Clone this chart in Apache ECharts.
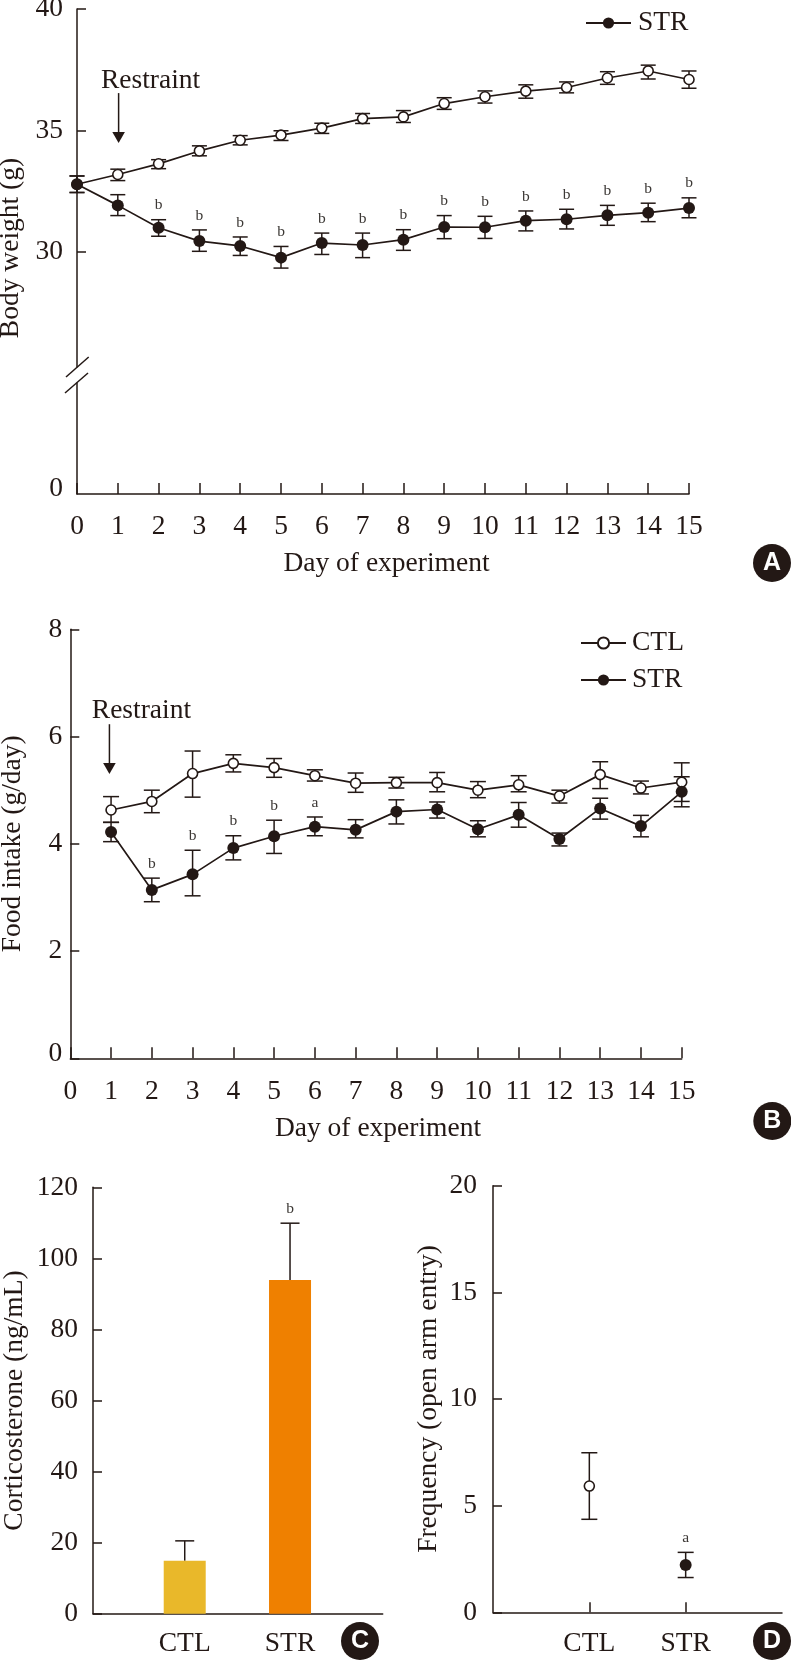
<!DOCTYPE html>
<html>
<head>
<meta charset="utf-8">
<style>html,body{margin:0;padding:0;background:#fff}#c{width:791px;height:1661px}</style>
<script src="https://cdn.jsdelivr.net/npm/echarts@6/dist/echarts.min.js"></script>
</head>
<body>
<div id="c"></div>
<script>
// Panel A: body weight
const daysA = [0,1,2,3,4,5,6,7,8,9,10,11,12,13,14,15];
const ctlA   = [32.79,33.19,33.63,34.16,34.60,34.81,35.10,35.49,35.56,36.11,36.39,36.62,36.77,37.16,37.45,37.10];
const ctlAHi = [33.13,33.41,33.80,34.37,34.79,34.99,35.30,35.70,35.82,36.35,36.63,36.88,37.00,37.42,37.69,37.45];
const ctlALo = [32.45,32.94,33.43,33.96,34.41,34.59,34.88,35.29,35.33,35.87,36.13,36.33,36.55,36.90,37.12,36.74];
const strA   = [32.79,31.92,31.00,30.45,30.25,29.77,30.37,30.29,30.51,31.03,31.02,31.29,31.35,31.51,31.62,31.81];
const strAHi = [33.13,32.36,31.33,30.91,30.62,30.23,30.78,30.78,30.92,31.50,31.47,31.69,31.76,31.92,32.01,32.23];
const strALo = [32.45,31.50,30.65,30.03,29.86,29.34,29.90,29.77,30.07,30.55,30.56,30.87,30.95,31.10,31.25,31.41];
const lettersA = ['','','b','b','b','b','b','b','b','b','b','b','b','b','b','b'];
const ticksAUpper = [30,35,40];
const ticksALower = [0];
const arrowA = [[1.02,36.54,34.49]];

// Panel B: food intake
const daysB = [1,2,3,4,5,6,7,8,9,10,11,12,13,14,15];
const ctlB   = [4.63,4.79,5.31,5.50,5.42,5.27,5.13,5.14,5.14,5.00,5.10,4.89,5.29,5.04,5.15];
const ctlBHi = [4.88,5.00,5.73,5.66,5.59,5.38,5.32,5.24,5.33,5.16,5.27,5.00,5.53,5.17,5.51];
const ctlBLo = [4.40,4.58,4.87,5.34,5.24,5.17,4.96,5.04,4.97,4.86,4.97,4.76,5.03,4.93,4.79];
const strB   = [4.22,3.14,3.43,3.92,4.14,4.32,4.26,4.60,4.64,4.27,4.54,4.09,4.66,4.33,4.97];
const strBHi = [4.40,3.36,3.88,4.15,4.44,4.50,4.45,4.82,4.78,4.43,4.77,4.20,4.85,4.53,5.25];
const strBLo = [4.04,2.92,3.03,3.70,3.82,4.15,4.11,4.37,4.48,4.13,4.31,3.96,4.46,4.13,4.69];
const lettersB = ['','b','b','b','b','a','','','','','','','','',''];
const arrowB = [[0.96,6.23,5.30]];

// Panel C: corticosterone
const catsC = ['CTL','STR'];
const valsC = [14.9,93.9];
const hiC = [20.5,109.9];
const barColorsC = ['#E9B82A','#EF8000'];
const lettersC = ['','b'];

// Panel D: open arm frequency
const catsD = ['CTL','STR'];
const valsD = [5.92,2.22];
const hiD = [7.48,2.81];
const loD = [4.36,1.63];
const lettersD = ['','a'];

const ink = '#231815';
const serif = '"Liberation Serif","Times New Roman",serif';
const FS = 27.5;
const txt = {fontFamily: serif, fontSize: FS, color: ink};
const lineSty = {color: ink, width: 1.5};

function zip() { const a = [...arguments]; return a[0].map((_, i) => a.map(c => c[i])); }

function errRender(capHalf, upOnly) {
  return function (params, api) {
    const x = api.value(0);
    const lo = api.coord([x, api.value(1)]);
    const hi = api.coord([x, api.value(2)]);
    const s = {stroke: ink, lineWidth: 1.5, fill: null};
    const mk = (x1, y1, x2, y2) => ({type: 'line', shape: {x1, y1, x2, y2}, style: s});
    const ch = [mk(lo[0], lo[1], hi[0], hi[1]), mk(hi[0] - capHalf, hi[1], hi[0] + capHalf, hi[1])];
    if (!upOnly) ch.push(mk(lo[0] - capHalf, lo[1], lo[0] + capHalf, lo[1]));
    return {type: 'group', children: ch};
  };
}
function errSeries(xi, yi, data, capHalf, upOnly) {
  return {type: 'custom', xAxisIndex: xi, yAxisIndex: yi, data, z: 1, clip: false, silent: true,
    encode: {x: 0, y: [1, 2]}, renderItem: errRender(capHalf, upOnly), tooltip: {show: false}};
}
function letterSeries(xi, yi, xs, tops, letters) {
  return {type: 'custom', xAxisIndex: xi, yAxisIndex: yi, data: zip(xs, tops), z: 3, clip: false, silent: true,
    encode: {x: 0, y: 1},
    renderItem(params, api) {
      const p = api.coord([api.value(0), api.value(1)]);
      return {type: 'text', x: p[0], y: p[1] - 14.5, style: {text: letters[params.dataIndex], fontFamily: serif,
        fontSize: 15.5, fill: '#3c3835', align: 'center', verticalAlign: 'middle'}};
    }};
}
function arrowSeries(xi, yi, data, dx, dy) {
  return {type: 'custom', xAxisIndex: xi, yAxisIndex: yi, data, z: 3, clip: false, silent: true,
    encode: {x: 0, y: [1, 2]},
    renderItem(params, api) {
      const x = api.value(0);
      const a = api.coord([x, api.value(1)]);
      const b = api.coord([x, api.value(2)]);
      return {type: 'group', children: [
        {type: 'line', shape: {x1: a[0], y1: a[1], x2: b[0], y2: b[1] - 8}, style: {stroke: ink, lineWidth: 1.5}},
        {type: 'polygon', shape: {points: [[b[0] - 6.3, b[1] - 11], [b[0] + 6.3, b[1] - 11], [b[0], b[1]]]}, style: {fill: ink}},
        {type: 'text', x: a[0] + dx, y: a[1] - dy, style: {text: 'Restraint', fontFamily: serif, fontSize: FS, fill: ink,
          align: 'center', verticalAlign: 'middle'}}
      ]};
    }};
}
function lineSeries(name, xi, yi, xs, ys, open) {
  return {type: 'line', name, xAxisIndex: xi, yAxisIndex: yi, data: zip(xs, ys), z: open ? 2 : 4,
    symbol: 'circle', symbolSize: open ? 10 : 12, showAllSymbol: true, clip: false,
    lineStyle: {color: ink, width: 1.7},
    itemStyle: open ? {color: '#fff', borderColor: ink, borderWidth: 1.6} : {color: ink, borderColor: ink, borderWidth: 0}};
}
function pointSeries(xi, yi, x, y, open) {
  return {type: 'scatter', xAxisIndex: xi, yAxisIndex: yi, data: [[x, y]], z: 4, symbol: 'circle',
    symbolSize: open ? 10 : 12, silent: true,
    itemStyle: open ? {color: '#fff', borderColor: ink, borderWidth: 1.6, opacity: 1} : {color: ink, opacity: 1}};
}
function badge(cx, cy, ch) {
  return [
    {type: 'circle', shape: {cx, cy, r: 19}, style: {fill: ink}, silent: true},
    {type: 'text', x: cx, y: cy, style: {text: ch, fontFamily: '"Liberation Sans",Arial,sans-serif', fontWeight: 'bold',
      fontSize: 25, fill: '#fff', align: 'center', verticalAlign: 'middle'}, silent: true}
  ];
}
function breakMark(x1, y1, x2, y2) {
  return {type: 'line', shape: {x1, y1, x2, y2}, style: {stroke: ink, lineWidth: 1.5}, silent: true};
}

const dayLabels = {show: true, interval: 0, margin: 19, ...txt};
const dayTicks = {show: true, inside: true, length: 11, lineStyle: lineSty, interval: 0};
const noBounds = {containLabel: false, outerBoundsMode: 'none'};
const raisedZero = {z: {fontFamily: serif, fontSize: FS, color: ink, padding: [0, 0, 10, 0]}};
const zeroFmt = v => v === 0 ? '{z|0}' : String(v);

const option = {
  animation: false,
  backgroundColor: '#fff',
  grid: [
    {left: 77, top: 9, width: 612, height: 358, ...noBounds},     // A upper
    {left: 77, top: 383, width: 612, height: 111, ...noBounds},   // A lower
    {left: 70.3, top: 629.3, width: 611.4, height: 429, ...noBounds}, // B
    {left: 93, top: 1187.3, width: 289.7, height: 426.4, ...noBounds}, // C
    {left: 493, top: 1185.7, width: 289, height: 426.6, ...noBounds}   // D
  ],
  xAxis: [
    {type: 'value', gridIndex: 0, min: 0, max: 15, show: false},
    {type: 'value', gridIndex: 1, min: 0, max: 15, interval: 1, splitLine: {show: false},
      axisLine: {lineStyle: lineSty, onZero: false}, axisTick: dayTicks, axisLabel: dayLabels,
      name: 'Day of experiment', nameLocation: 'middle', nameGap: 56,
      nameTextStyle: {...txt, padding: [0, 0, 0, 7]}},
    {type: 'value', gridIndex: 2, min: 0, max: 15, interval: 1, splitLine: {show: false},
      axisLine: {lineStyle: lineSty, onZero: false}, axisTick: dayTicks, axisLabel: dayLabels,
      name: 'Day of experiment', nameLocation: 'middle', nameGap: 56,
      nameTextStyle: {...txt, padding: [0, 0, 0, 4]}},
    {type: 'value', gridIndex: 3, min: 0.129, max: 2.88, splitLine: {show: false},
      axisLine: {lineStyle: lineSty, onZero: false}, axisTick: {show: false},
      axisLabel: {show: true, margin: 16, ...txt, customValues: [1, 2], formatter: v => catsC[Math.round(v) - 1] || ''}},
    {type: 'value', gridIndex: 4, min: 0, max: 3, splitLine: {show: false},
      axisLine: {lineStyle: lineSty, onZero: false},
      axisTick: {show: true, inside: true, length: 10, lineStyle: lineSty, customValues: [1, 2]},
      axisLabel: {show: true, margin: 17, ...txt, customValues: [1, 2], formatter: v => catsD[Math.round(v) - 1] || ''}}
  ],
  yAxis: [
    {type: 'value', gridIndex: 0, min: 25.27, max: 40, splitLine: {show: false},
      axisLine: {show: true, lineStyle: lineSty, onZero: false},
      axisTick: {show: true, inside: true, length: 9, lineStyle: lineSty, customValues: ticksAUpper},
      axisLabel: {show: true, margin: 14, ...txt, customValues: ticksAUpper},
      name: 'Body weight (g)', nameLocation: 'middle', nameGap: 48,
      nameTextStyle: {...txt, padding: [0, 120, 0, 0]}},
    {type: 'value', gridIndex: 1, min: 0, max: 5, splitLine: {show: false},
      axisLine: {show: true, lineStyle: lineSty, onZero: false},
      axisTick: {show: false},
      axisLabel: {show: true, margin: 14, ...txt, customValues: ticksALower, formatter: zeroFmt, rich: raisedZero}},
    {type: 'value', gridIndex: 2, min: 0, max: 8, interval: 2, splitLine: {show: false},
      axisLine: {show: true, lineStyle: lineSty, onZero: false},
      axisTick: {show: true, inside: true, length: 9, lineStyle: lineSty},
      axisLabel: {show: true, margin: 8, ...txt, formatter: zeroFmt, rich: raisedZero},
      name: 'Food intake (g/day)', nameLocation: 'middle', nameGap: 44, nameTextStyle: {...txt}},
    {type: 'value', gridIndex: 3, min: 0, max: 120, interval: 20, splitLine: {show: false},
      axisLine: {show: true, lineStyle: lineSty, onZero: false},
      axisTick: {show: true, inside: true, length: 9, lineStyle: lineSty},
      axisLabel: {show: true, margin: 15, ...txt},
      name: 'Corticosterone (ng/mL)', nameLocation: 'middle', nameGap: 64, nameTextStyle: {...txt}},
    {type: 'value', gridIndex: 4, min: 0, max: 20, interval: 5, splitLine: {show: false},
      axisLine: {show: true, lineStyle: lineSty, onZero: false},
      axisTick: {show: true, inside: true, length: 9, lineStyle: lineSty},
      axisLabel: {show: true, margin: 16, ...txt},
      name: 'Frequency (open arm entry)', nameLocation: 'middle', nameGap: 50, nameTextStyle: {...txt}}
  ],
  legend: [
    {left: 585, top: 9, padding: 0, orient: 'vertical', data: ['STR'], itemWidth: 45, itemHeight: 14, itemGap: 9,
      textStyle: {...txt, padding: [0, 0, 0, 2]}, selectedMode: false},
    {left: 580, top: 629, padding: 0, orient: 'vertical', data: ['CTL', 'STR'], itemWidth: 45, itemHeight: 14, itemGap: 9,
      textStyle: {...txt, padding: [0, 0, 0, 1]}, selectedMode: false}
  ],
  series: [
    errSeries(0, 0, zip(daysA, ctlALo, ctlAHi), 7.5),
    errSeries(0, 0, zip(daysA, strALo, strAHi), 7.5),
    lineSeries('CTL', 0, 0, daysA, ctlA, true),
    lineSeries('STR', 0, 0, daysA, strA, false),
    letterSeries(0, 0, daysA, strAHi, lettersA),
    arrowSeries(0, 0, arrowA, 32, 12),

    errSeries(2, 2, zip(daysB, ctlBLo, ctlBHi), 8),
    errSeries(2, 2, zip(daysB, strBLo, strBHi), 8),
    lineSeries('CTL', 2, 2, daysB, ctlB, true),
    lineSeries('STR', 2, 2, daysB, strB, false),
    letterSeries(2, 2, daysB, strBHi, lettersB),
    arrowSeries(2, 2, arrowB, 32, 13),

    {type: 'bar', xAxisIndex: 3, yAxisIndex: 3, barWidth: 42, z: 2, silent: true,
      data: valsC.map((v, i) => ({value: [i + 1, v], itemStyle: {color: barColorsC[i]}}))},
    errSeries(3, 3, zip([1, 2], valsC, hiC), 9.5, true),
    letterSeries(3, 3, [1, 2], hiC, lettersC),

    errSeries(4, 4, zip([1, 2], loD, hiD), 8),
    pointSeries(4, 4, 1, valsD[0], true),
    pointSeries(4, 4, 2, valsD[1], false),
    letterSeries(4, 4, [1, 2], hiD, lettersD)
  ],
  graphic: [
    {type: 'rect', shape: {x: 70, y: 368, width: 14, height: 14}, style: {fill: '#fff'}, silent: true, z: 5},
    Object.assign(breakMark(66, 377, 88.7, 357), {z: 6}),
    Object.assign(breakMark(65, 393, 88, 373), {z: 6}),
    ...badge(772, 563, 'A'),
    ...badge(772.3, 1121, 'B'),
    ...badge(360, 1641, 'C'),
    ...badge(772, 1641, 'D')
  ]
};
echarts.init(document.getElementById('c'), null, {renderer: 'canvas'}).setOption(option);
</script>
</body>
</html>
